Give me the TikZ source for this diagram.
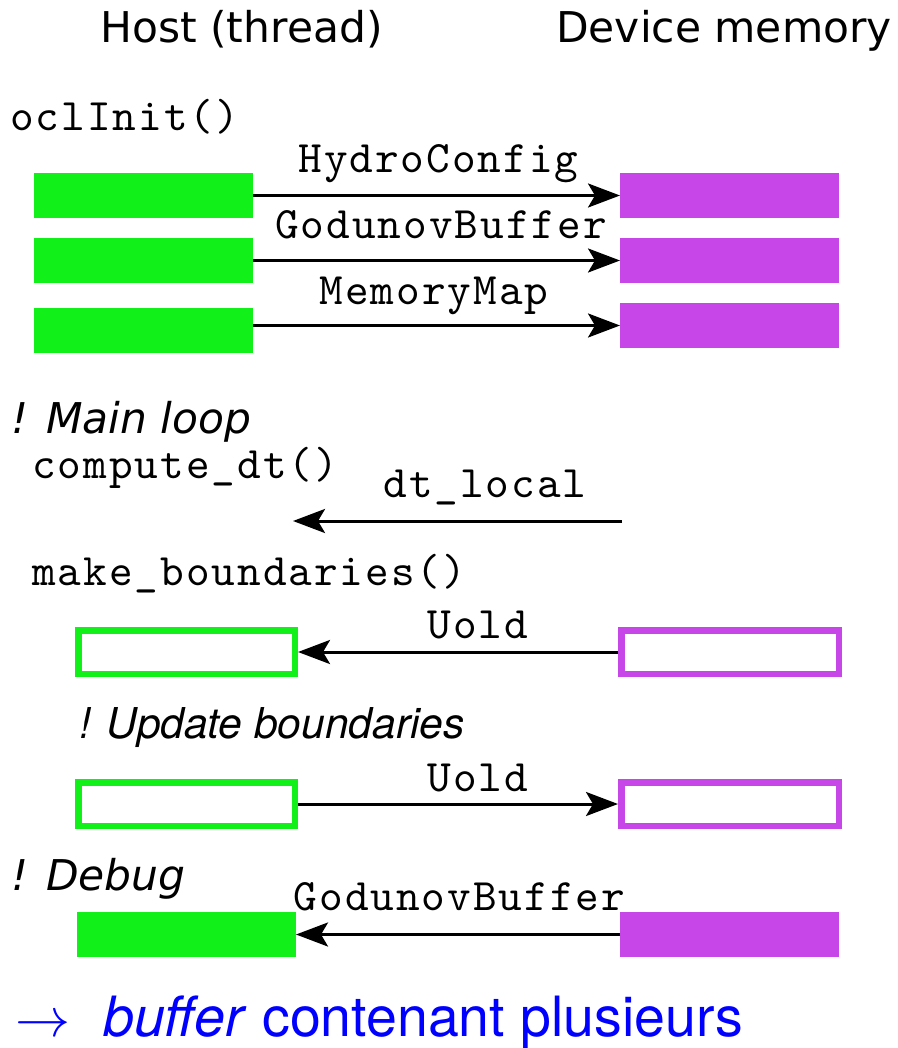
\documentclass[tikz,border=0pt]{standalone}
\usepackage{fontspec}
\usetikzlibrary{arrows.meta}

\newfontfamily\headfont{DejaVu Sans}
\newfontfamily\helvfont{TeX Gyre Heros}
\newfontfamily\codefont{lmmono10-regular}[Extension=.otf, LetterSpace=4.5]

\definecolor{hostgreen}{RGB}{18,240,26}
\definecolor{devmagenta}{RGB}{198,70,232}

\tikzset{
  heading/.style={inner sep=0, font=\headfont\fontsize{42.4}{50}\selectfont},
  remark/.style={inner sep=0, font=\headfont\itshape\fontsize{42.4}{50}\selectfont},
  remarkhelv/.style={inner sep=0, font=\helvfont\itshape\fontsize{42.5}{50}\selectfont},
  codelabel/.style={inner sep=0, font=\codefont\fontsize{45}{52}\selectfont},
  hostfill/.style={fill=hostgreen, draw=none, inner sep=0, outer sep=0,
                   minimum width=219pt, minimum height=45pt},
  devfill/.style={fill=devmagenta, draw=none, inner sep=0, outer sep=0,
                  minimum width=219pt, minimum height=45pt},
  hostframe/.style={draw=hostgreen, line width=6.5pt, inner sep=0,
                    minimum width=216.5pt, minimum height=43.5pt},
  devframe/.style={draw=devmagenta, line width=6.5pt, inner sep=0,
                   minimum width=217.5pt, minimum height=43.5pt},
  flow/.style={line width=3pt, -{Stealth[length=32pt,width=24pt,inset=7pt]}}
}

\begin{document}
\begin{tikzpicture}[x=1pt, y=-1pt]
\useasboundingbox (0,0) rectangle (897,1048);

% column headings
\node[heading, anchor=base] (hosthead) at (241.5,43) {Host (thread)};
\node[heading, anchor=base] (devhead) at (724,43) {Device memory};

% initialisation: three buffers copied to the device
\node[codelabel, anchor=base west] (oclinit) at (10,131) {oclInit()};

\node[hostfill] (g1) at (143.5,195.5) {};
\node[hostfill] (g2) at (143.5,260.5) {};
\node[hostfill] (g3) at (143.5,330.5) {};
\node[devfill] (m1) at (729.5,195.5) {};
\node[devfill] (m2) at (729.5,260.5) {};
\node[devfill] (m3) at (729.5,325.5) {};

\draw[flow] (g1.east) -- (m1.west);
\draw[flow] (g2.east) -- (m2.west);
\draw[flow] (g3.east |- m3.west) -- (m3.west);

\node[codelabel, anchor=base] (lhydro) at (438.5,173) {HydroConfig};
\node[codelabel, anchor=base] (lgodu) at (441,239) {GodunovBuffer};
\node[codelabel, anchor=base] (lmmap) at (434,305) {MemoryMap};

% main loop
\node[remark, anchor=base west] (mainloop) at (11,433) {! Main loop};
\node[codelabel, anchor=base west] (compdt) at (32,478) {compute\_dt()};

\coordinate (dtsrc) at (622,521);
\coordinate (dtdst) at (293,521);
\draw[flow] (dtsrc) -- (dtdst);
\node[codelabel, anchor=base] (ldt) at (485,497) {dt\_local};

% boundaries
\node[codelabel, anchor=base west] (makeb) at (32,585) {make\_boundaries()};

\node[hostframe] (og1) at (186.5,652) {};
\node[devframe] (om1) at (730,652) {};
\draw[flow] (om1.west) -- (og1.east);
\node[codelabel, anchor=base] (luold1) at (478,638) {Uold};

\node[remarkhelv, anchor=base west] (updb) at (79,738) {! Update boundaries};

\node[hostframe] (og2) at (186.5,804) {};
\node[devframe] (om2) at (730,804) {};
\draw[flow] (og2.east) -- (om2.west);
\node[codelabel, anchor=base] (luold2) at (478,791) {Uold};

% debug copy back
\node[remark, anchor=base west] (debug) at (11,890) {! Debug};

\node[hostfill] (gd) at (186.5,934.5) {};
\node[devfill] (md) at (729.5,934.5) {};
\draw[flow] (md.west) -- (gd.east);
\node[codelabel, anchor=base] (lgodu2) at (459.5,910) {GodunovBuffer};

% closing remark
\node[inner sep=0, anchor=base west, text=blue] (note) at (15,1036)
  {\scalebox{5.5}{$\rightarrow$}\hspace{33pt}%
   {\helvfont\fontsize{55.5}{60}\selectfont\textit{buffer} contenant plusieurs}};
\end{tikzpicture}
\end{document}
